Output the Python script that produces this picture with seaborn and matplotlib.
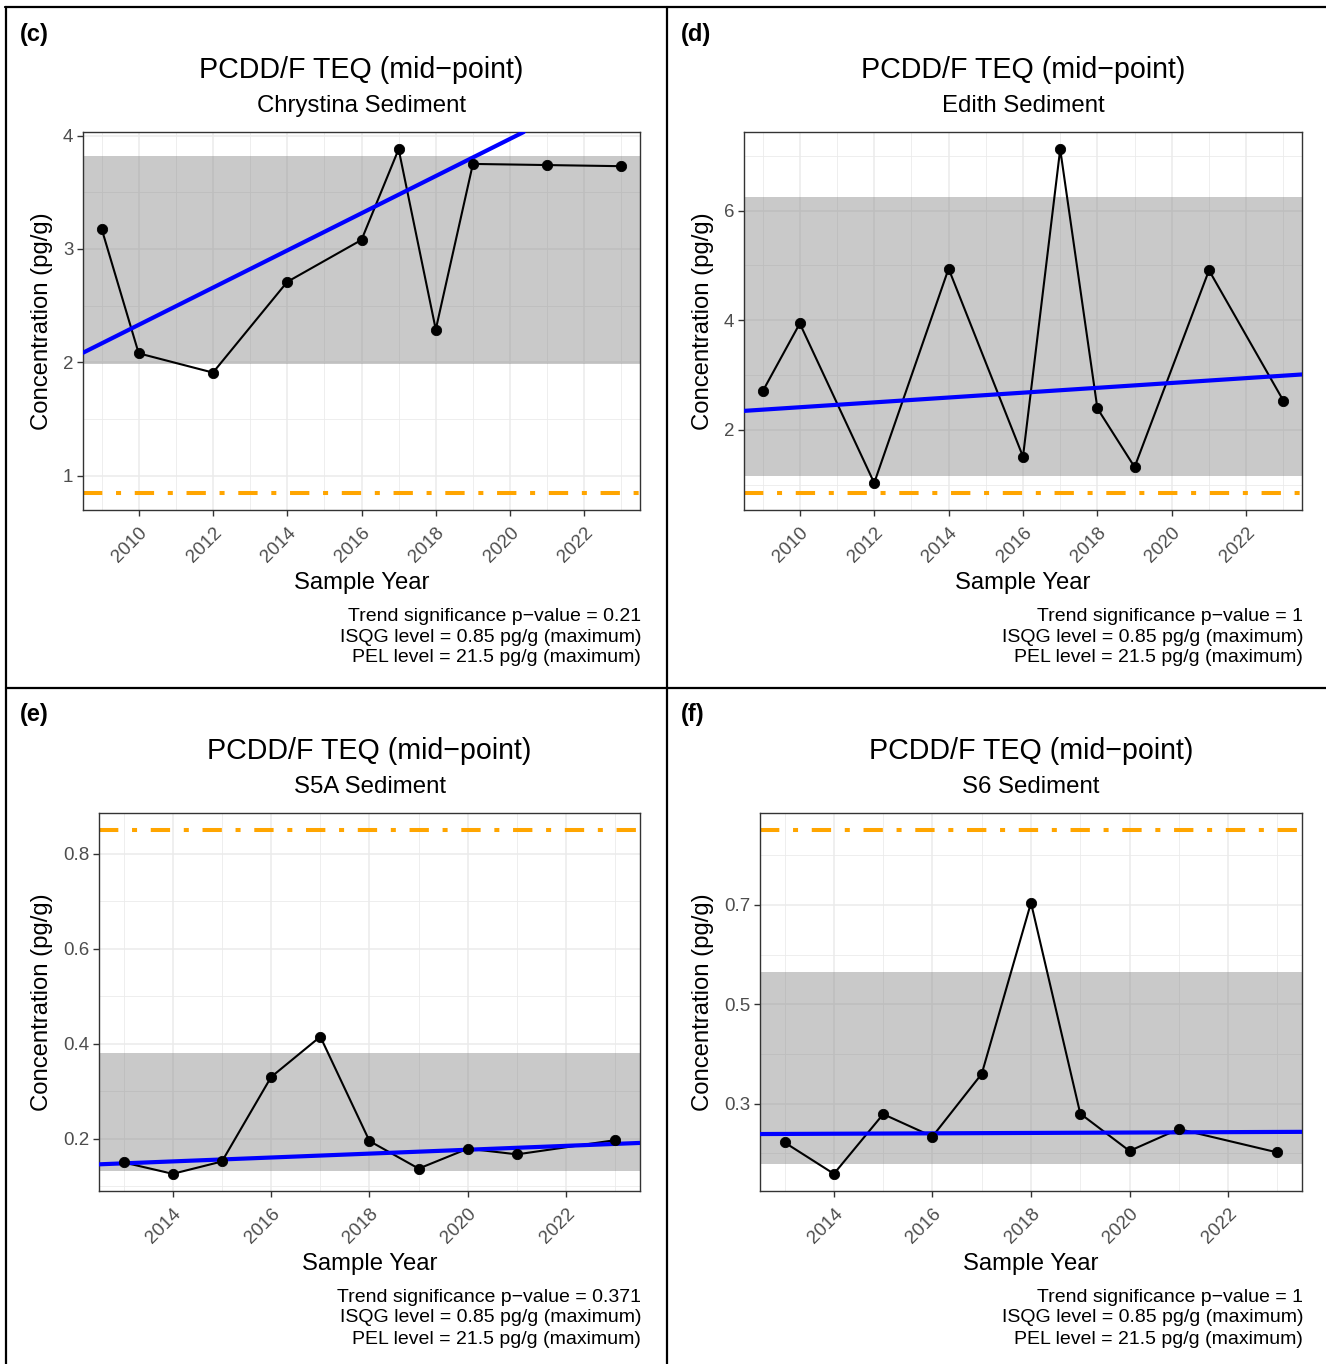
import numpy as np
import pandas as pd
import matplotlib.pyplot as plt
import seaborn as sns
from matplotlib.lines import Line2D

# ---- data ----
isqg_level = 0.85

years_c = [2009, 2010, 2012, 2014, 2016, 2017, 2018, 2019, 2021, 2023]
conc_c = [3.18, 2.08, 1.91, 2.71, 3.08, 3.88, 2.29, 3.75, 3.74, 3.73]
band_c = [1.99, 3.82]
trend_c = [2.085, 0.164]          # value at first x-limit, slope per year
pval_c = "0.21"

years_d = [2009, 2010, 2012, 2014, 2016, 2017, 2018, 2019, 2021, 2023]
conc_d = [2.70, 3.94, 1.03, 4.94, 1.51, 7.12, 2.39, 1.32, 4.91, 2.53]
band_d = [1.16, 6.25]
trend_d = [2.345, 0.0443]
pval_d = "1"

years_e = [2013, 2014, 2015, 2016, 2017, 2018, 2019, 2020, 2021, 2023]
conc_e = [0.150, 0.126, 0.152, 0.330, 0.415, 0.195, 0.137, 0.179, 0.167, 0.197]
band_e = [0.132, 0.381]
trend_e = [0.146, 0.0041]
pval_e = "0.371"

years_f = [2013, 2014, 2015, 2016, 2017, 2018, 2019, 2020, 2021, 2023]
conc_f = [0.222, 0.159, 0.279, 0.234, 0.360, 0.704, 0.280, 0.205, 0.249, 0.202]
band_f = [0.179, 0.565]
trend_f = [0.239, 0.0004]
pval_f = "1"

sites = ["Chrystina", "Edith", "S5A", "S6"]
letters = ["(c)", "(d)", "(e)", "(f)"]
yticks_major = [[1, 2, 3, 4], [2, 4, 6], [0.2, 0.4, 0.6, 0.8], [0.3, 0.5, 0.7]]
yticks_minor = [[1.5, 2.5, 3.5], [1, 3, 5, 7], [0.1, 0.3, 0.5, 0.7], [0.2, 0.4, 0.6, 0.8]]
ytick_labels = [["1", "2", "3", "4"], ["2", "4", "6"],
                ["0.2", "0.4", "0.6", "0.8"], ["0.3", "0.5", "0.7"]]

sns.set_theme(style="white")
plt.rcParams['font.family'] = ['Liberation Sans', 'DejaVu Sans']
plt.rcParams['text.color'] = 'black'

W, H = 1326, 1364
fig = plt.figure(figsize=(W / 100, H / 100), dpi=100)
fig.patch.set_facecolor("white")

# plot boxes in pixels: left, top, right, bottom
boxes = [(83, 132, 640, 510), (744, 132, 1302, 510),
         (99, 813, 640, 1191), (760, 813, 1302, 1191)]
cell_left = [6, 667, 6, 667]
cell_top = [7, 7, 688, 688]

panels = [(years_c, conc_c, band_c, trend_c, pval_c),
          (years_d, conc_d, band_d, trend_d, pval_d),
          (years_e, conc_e, band_e, trend_e, pval_e),
          (years_f, conc_f, band_f, trend_f, pval_f)]


def fx(px):
    return px / W


def fy(py):
    return 1 - py / H


for i, (years, conc, band, trend, pval) in enumerate(panels):
    l, t, r, b = boxes[i]
    ax = fig.add_axes([fx(l), fy(b), (r - l) / W, (b - t) / H])
    df = pd.DataFrame({"year": years, "conc": conc})

    x0, x1 = min(years) - 0.5, max(years) + 0.5
    lo = min(conc + [isqg_level])
    hi = max(conc + [isqg_level])
    pad = 0.05 * (hi - lo)
    ax.set_xlim(x0, x1)
    ax.set_ylim(lo - pad, hi + pad)

    # grid
    first_even = min(years) + (min(years) % 2)
    ax.set_xticks(np.arange(first_even, max(years), 2))
    ax.set_xticks(np.arange(first_even - 1, max(years) + 1, 2), minor=True)
    ax.set_yticks(yticks_major[i])
    ax.set_yticklabels(ytick_labels[i])
    ax.set_yticks(yticks_minor[i], minor=True)
    ax.set_axisbelow(True)
    ax.grid(which="major", color="#EBEBEB", lw=1.1)
    ax.grid(which="minor", color="#EBEBEB", lw=0.6)

    ax.axhspan(band[0], band[1], color="grey", alpha=0.42, lw=0, zorder=1)
    ax.axhline(isqg_level, color="#FFA500", lw=2.9,
               dashes=(4.8, 3.4, 1.25, 3.4), dash_capstyle="butt", zorder=2)

    sns.lineplot(data=df, x="year", y="conc", color="black", lw=1.5,
                 ax=ax, zorder=3)
    ax.axline((x0, trend[0]), slope=trend[1], color="blue", lw=3, zorder=4)
    sns.scatterplot(data=df, x="year", y="conc", color="black", s=55,
                    edgecolor="black", ax=ax, zorder=5)

    ax.set_xlabel("")
    ax.set_ylabel("")
    for sp in ax.spines.values():
        sp.set_color("#333333")
        sp.set_linewidth(1.0)
    ax.tick_params(axis="both", which="major", length=4, width=1,
                   color="#333333", labelsize=13.5, labelcolor="#4D4D4D",
                   bottom=True, left=True, pad=3)
    ax.tick_params(axis="x", which="major", pad=6)
    ax.tick_params(axis="both", which="minor", length=0)
    for lab in ax.get_xticklabels():
        lab.set_rotation(45)
        lab.set_ha("right")
        lab.set_va("top")
        lab.set_rotation_mode("anchor")

    cx = (l + r) / 2
    fig.text(fx(cell_left[i] + 14), fy(cell_top[i] + 27), letters[i],
             fontsize=17, fontweight="bold", ha="left", va="center")
    fig.text(fx(cx), fy(t - 62), "PCDD/F TEQ (mid\u2212point)",
             fontsize=20.6, ha="center", va="center")
    fig.text(fx(cx), fy(t - 26), sites[i] + " Sediment",
             fontsize=17.3, ha="center", va="center")
    fig.text(fx(cx), fy(b + 73), "Sample Year",
             fontsize=17.2, ha="center", va="center")
    fig.text(fx(cell_left[i] + 36), fy((t + b) / 2), "Concentration (pg/g)",
             fontsize=17.2, rotation=90, ha="center", va="center")
    notes = ["Trend significance p\u2212value = " + pval,
             "ISQG level = 0.85 pg/g (maximum)",
             "PEL level = 21.5 pg/g (maximum)"]
    for k, note in enumerate(notes):
        fig.text(fx(r + 1), fy(b + 106 + 21 * k), note,
                 fontsize=14, ha="right", va="center")

# table borders
for xs, ys in [((5, W), (7, 7)), ((6, 6), (7, H)),
               ((667, 667), (7, H)), ((6, W), (688, 688))]:
    fig.add_artist(Line2D([fx(x) for x in xs], [fy(y) for y in ys],
                          color="black", lw=1.6))

fig.savefig("out.png", dpi=100)
